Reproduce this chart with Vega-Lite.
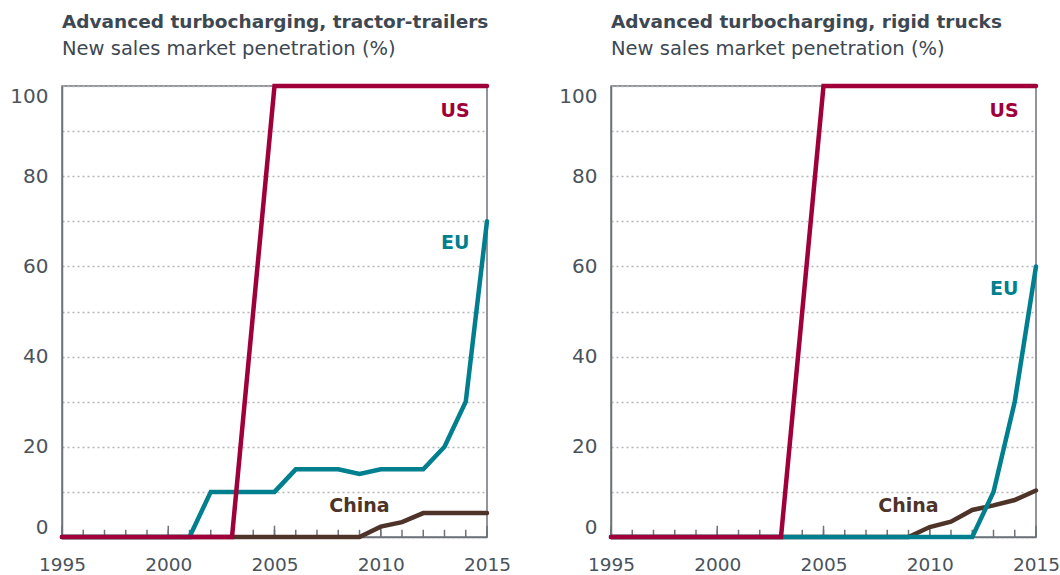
{
  "$schema": "https://vega.github.io/schema/vega-lite/v6.json",
  "background": "white",
  "padding": {"left": 4, "top": 12, "right": 2, "bottom": 0},
  "config": {
    "font": "DejaVu Sans",
    "view": {"stroke": "#6d7378", "strokeWidth": 1.5},
    "concat": {"spacing": 41},
    "title": {"anchor": "start", "frame": "group", "font": "DejaVu Sans", "fontSize": 18.5, "fontWeight": "bold", "color": "#3d4852", "subtitleFont": "DejaVu Sans", "subtitleFontSize": 19.5, "subtitleColor": "#3d4852", "subtitlePadding": 8, "offset": 19}
  },
  "datasets": {
    "series": [
      {"panel":"tractor","region":"China","year":1995,"value":0},
      {"panel":"tractor","region":"China","year":1996,"value":0},
      {"panel":"tractor","region":"China","year":1997,"value":0},
      {"panel":"tractor","region":"China","year":1998,"value":0},
      {"panel":"tractor","region":"China","year":1999,"value":0},
      {"panel":"tractor","region":"China","year":2000,"value":0},
      {"panel":"tractor","region":"China","year":2001,"value":0},
      {"panel":"tractor","region":"China","year":2002,"value":0},
      {"panel":"tractor","region":"China","year":2003,"value":0},
      {"panel":"tractor","region":"China","year":2004,"value":0},
      {"panel":"tractor","region":"China","year":2005,"value":0},
      {"panel":"tractor","region":"China","year":2006,"value":0},
      {"panel":"tractor","region":"China","year":2007,"value":0},
      {"panel":"tractor","region":"China","year":2008,"value":0},
      {"panel":"tractor","region":"China","year":2009,"value":0},
      {"panel":"tractor","region":"China","year":2010,"value":2.3},
      {"panel":"tractor","region":"China","year":2011,"value":3.3},
      {"panel":"tractor","region":"China","year":2012,"value":5.3},
      {"panel":"tractor","region":"China","year":2013,"value":5.3},
      {"panel":"tractor","region":"China","year":2014,"value":5.3},
      {"panel":"tractor","region":"China","year":2015,"value":5.3},
      {"panel":"tractor","region":"EU","year":1995,"value":0},
      {"panel":"tractor","region":"EU","year":1996,"value":0},
      {"panel":"tractor","region":"EU","year":1997,"value":0},
      {"panel":"tractor","region":"EU","year":1998,"value":0},
      {"panel":"tractor","region":"EU","year":1999,"value":0},
      {"panel":"tractor","region":"EU","year":2000,"value":0},
      {"panel":"tractor","region":"EU","year":2001,"value":0},
      {"panel":"tractor","region":"EU","year":2002,"value":10},
      {"panel":"tractor","region":"EU","year":2003,"value":10},
      {"panel":"tractor","region":"EU","year":2004,"value":10},
      {"panel":"tractor","region":"EU","year":2005,"value":10},
      {"panel":"tractor","region":"EU","year":2006,"value":15},
      {"panel":"tractor","region":"EU","year":2007,"value":15},
      {"panel":"tractor","region":"EU","year":2008,"value":15},
      {"panel":"tractor","region":"EU","year":2009,"value":14},
      {"panel":"tractor","region":"EU","year":2010,"value":15},
      {"panel":"tractor","region":"EU","year":2011,"value":15},
      {"panel":"tractor","region":"EU","year":2012,"value":15},
      {"panel":"tractor","region":"EU","year":2013,"value":20},
      {"panel":"tractor","region":"EU","year":2014,"value":30},
      {"panel":"tractor","region":"EU","year":2015,"value":70},
      {"panel":"tractor","region":"US","year":1995,"value":0},
      {"panel":"tractor","region":"US","year":1996,"value":0},
      {"panel":"tractor","region":"US","year":1997,"value":0},
      {"panel":"tractor","region":"US","year":1998,"value":0},
      {"panel":"tractor","region":"US","year":1999,"value":0},
      {"panel":"tractor","region":"US","year":2000,"value":0},
      {"panel":"tractor","region":"US","year":2001,"value":0},
      {"panel":"tractor","region":"US","year":2002,"value":0},
      {"panel":"tractor","region":"US","year":2003,"value":0},
      {"panel":"tractor","region":"US","year":2004,"value":50},
      {"panel":"tractor","region":"US","year":2005,"value":100},
      {"panel":"tractor","region":"US","year":2006,"value":100},
      {"panel":"tractor","region":"US","year":2007,"value":100},
      {"panel":"tractor","region":"US","year":2008,"value":100},
      {"panel":"tractor","region":"US","year":2009,"value":100},
      {"panel":"tractor","region":"US","year":2010,"value":100},
      {"panel":"tractor","region":"US","year":2011,"value":100},
      {"panel":"tractor","region":"US","year":2012,"value":100},
      {"panel":"tractor","region":"US","year":2013,"value":100},
      {"panel":"tractor","region":"US","year":2014,"value":100},
      {"panel":"tractor","region":"US","year":2015,"value":100},
      {"panel":"rigid","region":"China","year":1995,"value":0},
      {"panel":"rigid","region":"China","year":1996,"value":0},
      {"panel":"rigid","region":"China","year":1997,"value":0},
      {"panel":"rigid","region":"China","year":1998,"value":0},
      {"panel":"rigid","region":"China","year":1999,"value":0},
      {"panel":"rigid","region":"China","year":2000,"value":0},
      {"panel":"rigid","region":"China","year":2001,"value":0},
      {"panel":"rigid","region":"China","year":2002,"value":0},
      {"panel":"rigid","region":"China","year":2003,"value":0},
      {"panel":"rigid","region":"China","year":2004,"value":0},
      {"panel":"rigid","region":"China","year":2005,"value":0},
      {"panel":"rigid","region":"China","year":2006,"value":0},
      {"panel":"rigid","region":"China","year":2007,"value":0},
      {"panel":"rigid","region":"China","year":2008,"value":0},
      {"panel":"rigid","region":"China","year":2009,"value":0},
      {"panel":"rigid","region":"China","year":2010,"value":2.2},
      {"panel":"rigid","region":"China","year":2011,"value":3.4},
      {"panel":"rigid","region":"China","year":2012,"value":6},
      {"panel":"rigid","region":"China","year":2013,"value":7},
      {"panel":"rigid","region":"China","year":2014,"value":8.2},
      {"panel":"rigid","region":"China","year":2015,"value":10.3},
      {"panel":"rigid","region":"EU","year":1995,"value":0},
      {"panel":"rigid","region":"EU","year":1996,"value":0},
      {"panel":"rigid","region":"EU","year":1997,"value":0},
      {"panel":"rigid","region":"EU","year":1998,"value":0},
      {"panel":"rigid","region":"EU","year":1999,"value":0},
      {"panel":"rigid","region":"EU","year":2000,"value":0},
      {"panel":"rigid","region":"EU","year":2001,"value":0},
      {"panel":"rigid","region":"EU","year":2002,"value":0},
      {"panel":"rigid","region":"EU","year":2003,"value":0},
      {"panel":"rigid","region":"EU","year":2004,"value":0},
      {"panel":"rigid","region":"EU","year":2005,"value":0},
      {"panel":"rigid","region":"EU","year":2006,"value":0},
      {"panel":"rigid","region":"EU","year":2007,"value":0},
      {"panel":"rigid","region":"EU","year":2008,"value":0},
      {"panel":"rigid","region":"EU","year":2009,"value":0},
      {"panel":"rigid","region":"EU","year":2010,"value":0},
      {"panel":"rigid","region":"EU","year":2011,"value":0},
      {"panel":"rigid","region":"EU","year":2012,"value":0},
      {"panel":"rigid","region":"EU","year":2013,"value":10},
      {"panel":"rigid","region":"EU","year":2014,"value":30},
      {"panel":"rigid","region":"EU","year":2015,"value":60},
      {"panel":"rigid","region":"US","year":1995,"value":0},
      {"panel":"rigid","region":"US","year":1996,"value":0},
      {"panel":"rigid","region":"US","year":1997,"value":0},
      {"panel":"rigid","region":"US","year":1998,"value":0},
      {"panel":"rigid","region":"US","year":1999,"value":0},
      {"panel":"rigid","region":"US","year":2000,"value":0},
      {"panel":"rigid","region":"US","year":2001,"value":0},
      {"panel":"rigid","region":"US","year":2002,"value":0},
      {"panel":"rigid","region":"US","year":2003,"value":0},
      {"panel":"rigid","region":"US","year":2004,"value":50},
      {"panel":"rigid","region":"US","year":2005,"value":100},
      {"panel":"rigid","region":"US","year":2006,"value":100},
      {"panel":"rigid","region":"US","year":2007,"value":100},
      {"panel":"rigid","region":"US","year":2008,"value":100},
      {"panel":"rigid","region":"US","year":2009,"value":100},
      {"panel":"rigid","region":"US","year":2010,"value":100},
      {"panel":"rigid","region":"US","year":2011,"value":100},
      {"panel":"rigid","region":"US","year":2012,"value":100},
      {"panel":"rigid","region":"US","year":2013,"value":100},
      {"panel":"rigid","region":"US","year":2014,"value":100},
      {"panel":"rigid","region":"US","year":2015,"value":100}
    ],
    "labels": [
      {"panel":"tractor","region":"US","year":2013.5,"value":94.5},
      {"panel":"tractor","region":"EU","year":2013.5,"value":65.2},
      {"panel":"tractor","region":"China","year":2009,"value":6.9},
      {"panel":"rigid","region":"US","year":2013.5,"value":94.5},
      {"panel":"rigid","region":"EU","year":2013.5,"value":55},
      {"panel":"rigid","region":"China","year":2009,"value":6.9}
    ]
  },
  "hconcat": [
    {
      "title": {"text": "Advanced turbocharging, tractor-trailers", "subtitle": "New sales market penetration (%)"},
      "width": 425,
      "height": 451,
      "layer": [
        {
          "data": {"name": "series"},
          "transform": [{"filter": "datum.panel === 'tractor' && datum.region === 'US'"}],
          "mark": {"type": "rule", "color": "#6d7378", "strokeWidth": 1.5},
          "encoding": {
            "x": {"field": "year", "type": "quantitative"},
            "y": {"datum": 0, "type": "quantitative"},
            "y2": {"datum": 1.6}
          }
        },
        {
          "data": {"name": "series"},
          "transform": [{"filter": "datum.panel === 'tractor' && datum.region === 'US' && datum.year % 5 === 0"}],
          "mark": {"type": "rule", "color": "#6d7378", "strokeWidth": 1.5},
          "encoding": {
            "x": {"field": "year", "type": "quantitative"},
            "y": {"datum": 0, "type": "quantitative"},
            "y2": {"datum": 2.5}
          }
        },
        {
          "data": {"name": "series"},
          "transform": [{"filter": "datum.panel === 'tractor'"}],
          "mark": {"type": "line", "strokeWidth": 4.5, "strokeCap": "round"},
          "encoding": {
            "x": {"field": "year", "type": "quantitative", "scale": {"domain": [1995, 2015], "nice": false, "zero": false},
                  "axis": {"title": null, "values": [1995, 2000, 2005, 2010, 2015], "format": "d", "ticks": false, "domainColor": "#6d7378", "domainWidth": 1.5, "labelFontSize": 18.5, "labelColor": "#4a535b", "labelPadding": 18, "grid": false, "labelFlush": false, "labelOverlap": false}},
            "y": {"field": "value", "type": "quantitative", "scale": {"domain": [0, 100], "nice": false},
                  "axis": {"title": null, "values": [0,10,20,30,40,50,60,70,80,90,100], "labelExpr": "datum.value % 20 === 0 ? datum.label : ''", "ticks": false, "grid": true, "gridDash": [2, 3], "gridColor": "#b5b5b5", "gridWidth": 1.5, "domainColor": "#6d7378", "domainWidth": 1.5, "labelFontSize": 20, "labelColor": "#4a535b", "labelPadding": 14, "minExtent": 57, "maxExtent": 57, "labelOverlap": false, "labelFlush": true}},
            "color": {"field": "region", "type": "nominal", "scale": {"domain": ["US", "EU", "China"], "range": ["#a0003a", "#007f8e", "#4e3329"]}, "legend": null}
          }
        },
        {
          "data": {"name": "labels"},
          "transform": [{"filter": "datum.panel === 'tractor'"}],
          "mark": {"type": "text", "fontSize": 19, "fontWeight": "bold", "font": "DejaVu Sans", "align": "center", "baseline": "middle"},
          "encoding": {
            "x": {"field": "year", "type": "quantitative"},
            "y": {"field": "value", "type": "quantitative"},
            "text": {"field": "region"},
            "color": {"field": "region", "type": "nominal", "legend": null}
          }
        }
      ]
    },
    {
      "title": {"text": "Advanced turbocharging, rigid trucks", "subtitle": "New sales market penetration (%)"},
      "width": 425,
      "height": 451,
      "layer": [
        {
          "data": {"name": "series"},
          "transform": [{"filter": "datum.panel === 'rigid' && datum.region === 'US'"}],
          "mark": {"type": "rule", "color": "#6d7378", "strokeWidth": 1.5},
          "encoding": {
            "x": {"field": "year", "type": "quantitative"},
            "y": {"datum": 0, "type": "quantitative"},
            "y2": {"datum": 1.6}
          }
        },
        {
          "data": {"name": "series"},
          "transform": [{"filter": "datum.panel === 'rigid' && datum.region === 'US' && datum.year % 5 === 0"}],
          "mark": {"type": "rule", "color": "#6d7378", "strokeWidth": 1.5},
          "encoding": {
            "x": {"field": "year", "type": "quantitative"},
            "y": {"datum": 0, "type": "quantitative"},
            "y2": {"datum": 2.5}
          }
        },
        {
          "data": {"name": "series"},
          "transform": [{"filter": "datum.panel === 'rigid'"}],
          "mark": {"type": "line", "strokeWidth": 4.5, "strokeCap": "round"},
          "encoding": {
            "x": {"field": "year", "type": "quantitative", "scale": {"domain": [1995, 2015], "nice": false, "zero": false},
                  "axis": {"title": null, "values": [1995, 2000, 2005, 2010, 2015], "format": "d", "ticks": false, "domainColor": "#6d7378", "domainWidth": 1.5, "labelFontSize": 18.5, "labelColor": "#4a535b", "labelPadding": 18, "grid": false, "labelFlush": false, "labelOverlap": false}},
            "y": {"field": "value", "type": "quantitative", "scale": {"domain": [0, 100], "nice": false},
                  "axis": {"title": null, "values": [0,10,20,30,40,50,60,70,80,90,100], "labelExpr": "datum.value % 20 === 0 ? datum.label : ''", "ticks": false, "grid": true, "gridDash": [2, 3], "gridColor": "#b5b5b5", "gridWidth": 1.5, "domainColor": "#6d7378", "domainWidth": 1.5, "labelFontSize": 20, "labelColor": "#4a535b", "labelPadding": 14, "minExtent": 57, "maxExtent": 57, "labelOverlap": false, "labelFlush": true}},
            "color": {"field": "region", "type": "nominal", "scale": {"domain": ["US", "EU", "China"], "range": ["#a0003a", "#007f8e", "#4e3329"]}, "legend": null}
          }
        },
        {
          "data": {"name": "labels"},
          "transform": [{"filter": "datum.panel === 'rigid'"}],
          "mark": {"type": "text", "fontSize": 19, "fontWeight": "bold", "font": "DejaVu Sans", "align": "center", "baseline": "middle"},
          "encoding": {
            "x": {"field": "year", "type": "quantitative"},
            "y": {"field": "value", "type": "quantitative"},
            "text": {"field": "region"},
            "color": {"field": "region", "type": "nominal", "legend": null}
          }
        }
      ]
    }
  ]
}
